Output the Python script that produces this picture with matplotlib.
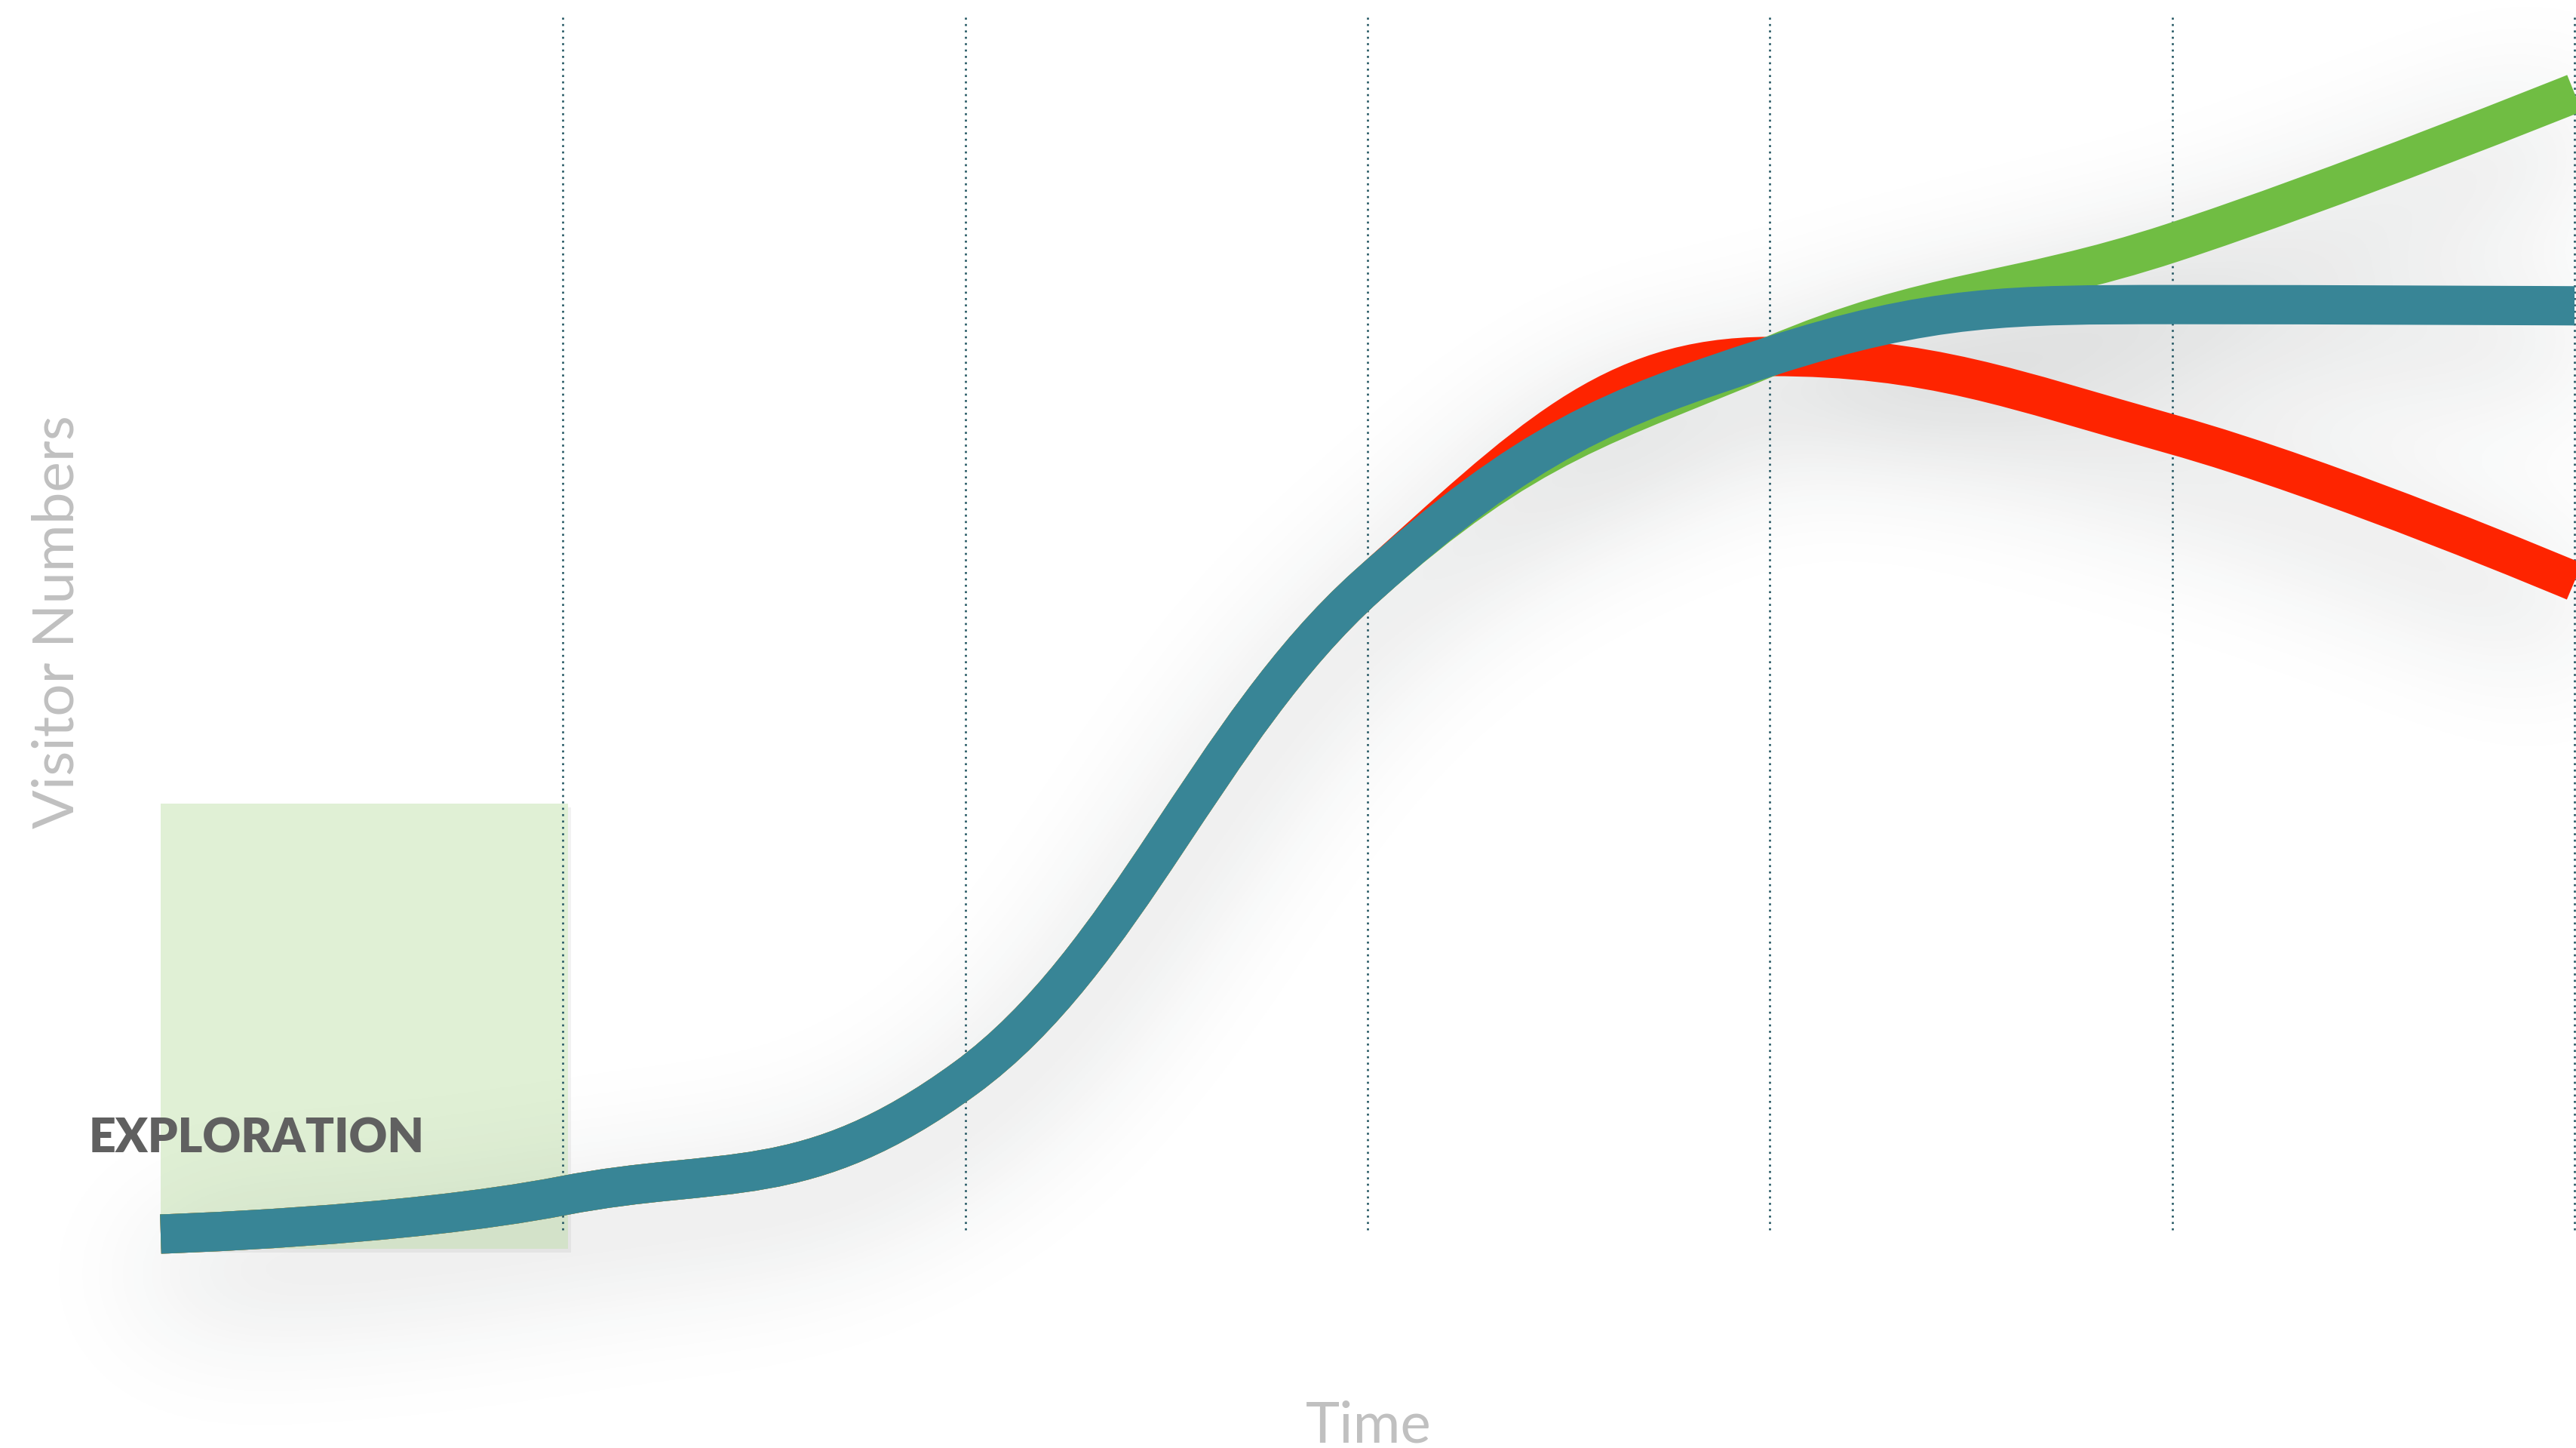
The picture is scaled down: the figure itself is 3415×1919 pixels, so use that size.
import numpy as np
import matplotlib
matplotlib.use("Agg")
import matplotlib.pyplot as plt
from matplotlib.path import Path
from matplotlib.patches import PathPatch, Rectangle
import matplotlib.transforms as mtransforms

# ---------------- data ----------------
time_points = [0, 1, 2, 3, 4, 5, 6]
teal_values = [1.5, 4.6, 14.1, 54.0, 72.5, 76.7, 76.6]
red_values = [1.5, 4.6, 14.1, 54.0, 72.5, 66.2, 54.3]
green_values = [1.5, 4.6, 14.1, 54.0, 72.5, 81.7, 93.8]
grid_positions = [1, 2, 3, 4, 5, 6]
band_x = [0.0, 1.013]
band_y = [0.3, 36.3]
band_label = "EXPLORATION"
x_title = "Time"
y_title = "Visitor Numbers"

# ---------------- style ----------------
W, H, DPI = 3415, 1919, 100
TEAL = "#388596"
GREEN = "#70BD43"
RED = "#FE2400"
GRID = "#245763"
BAND = "#E0F0D5"
LW = 37.5  # points
XLIM = (-213 / 533.33, 6 + 2 / 533.33)
YLIM = (-(H - 1660) / 16.38, 1660 / 16.38)

plt.rcParams["font.family"] = ["Lato", "DejaVu Sans"]


def spline_path(xs, ys):
    """Smooth path through the points (Highcharts-like spline)."""
    n = len(xs)
    left = [None] * n
    right = [None] * n
    s, d = 1.5, 2.5
    for i in range(1, n - 1):
        x, y = xs[i], ys[i]
        lx, ly = xs[i - 1], ys[i - 1]
        nx, ny = xs[i + 1], ys[i + 1]
        lcx, lcy = (s * x + lx) / d, (s * y + ly) / d
        rcx, rcy = (s * x + nx) / d, (s * y + ny) / d
        corr = (rcy - lcy) * (rcx - x) / (rcx - lcx) + y - rcy
        lcy += corr
        rcy += corr
        if lcy > ly and lcy > y:
            lcy = max(ly, y); rcy = 2 * y - lcy
        elif lcy < ly and lcy < y:
            lcy = min(ly, y); rcy = 2 * y - lcy
        if rcy > ny and rcy > y:
            rcy = max(ny, y); lcy = 2 * y - rcy
        elif rcy < ny and rcy < y:
            rcy = min(ny, y); lcy = 2 * y - rcy
        left[i] = (lcx, lcy)
        right[i] = (rcx, rcy)
    verts = [(xs[0], ys[0])]
    codes = [Path.MOVETO]
    for i in range(1, n):
        c1 = right[i - 1] if right[i - 1] is not None else (xs[i - 1], ys[i - 1])
        c2 = left[i] if left[i] is not None else (xs[i], ys[i])
        verts += [c1, c2, (xs[i], ys[i])]
        codes += [Path.CURVE4] * 3
    return Path(verts, codes)


series = [(red_values, RED), (green_values, GREEN), (teal_values, TEAL)]


def setup_axes(fig):
    ax = fig.add_axes([0, 0, 1, 1])
    ax.set_xlim(*XLIM)
    ax.set_ylim(*YLIM)
    ax.axis("off")
    return ax


# ---------------- shadow (blurred copy of the curves) ----------------
def make_shadow(offset_px=55, sigma_px=85, strength=0.28):
    sdpi = 25
    f2 = plt.figure(figsize=(W / DPI, H / DPI), dpi=sdpi)
    a2 = setup_axes(f2)
    tr = mtransforms.offset_copy(a2.transData, fig=f2, x=0, y=-offset_px / DPI, units="inches")
    for vals, _ in series:
        p = PathPatch(spline_path(time_points, vals), fill=False, edgecolor="black",
                      linewidth=LW, transform=tr, capstyle="butt", joinstyle="round")
        a2.add_patch(p)
    f2.canvas.draw()
    buf = np.asarray(f2.canvas.buffer_rgba()).astype(float)
    plt.close(f2)
    mask = 1.0 - buf[..., 0] / 255.0
    sig = sigma_px * sdpi / DPI
    r = int(3 * sig) + 1
    k = np.exp(-0.5 * (np.arange(-r, r + 1) / sig) ** 2)
    k /= k.sum()
    pad = np.pad(mask, r)
    blurred = np.apply_along_axis(lambda m: np.convolve(m, k, mode="same"), 0, pad)
    blurred = np.apply_along_axis(lambda m: np.convolve(m, k, mode="same"), 1, blurred)
    blurred = blurred[r:-r, r:-r]
    img = np.zeros(blurred.shape + (4,))
    img[..., 0] = 0.14
    img[..., 1] = 0.17
    img[..., 2] = 0.17
    img[..., 3] = np.clip(blurred * strength, 0, 1)
    return img


fig = plt.figure(figsize=(W / DPI, H / DPI), dpi=DPI)
ax = setup_axes(fig)

# plot band with its slight shadow
ax.add_patch(Rectangle((band_x[0], band_y[0]), band_x[1] - band_x[0], band_y[1] - band_y[0],
                       transform=mtransforms.offset_copy(ax.transData, fig=fig, x=4 / DPI, y=-5 / DPI, units="inches"),
                       facecolor="black", alpha=0.05, edgecolor="none", zorder=0.9))
ax.add_patch(Rectangle((band_x[0], band_y[0]), band_x[1] - band_x[0], band_y[1] - band_y[0],
                       facecolor=BAND, edgecolor="none", zorder=1))

shadow = make_shadow()
ax.imshow(shadow, extent=(XLIM[0], XLIM[1], YLIM[0], YLIM[1]), origin="upper",
          aspect="auto", interpolation="bilinear", zorder=1.5)

# dotted vertical grid lines
ax.vlines(grid_positions, ymin=1.83, ymax=100.0, colors=GRID, linewidth=1.9,
          linestyles=(0, (1, 2.2)), zorder=2)

# curves
for vals, col in series:
    ax.add_patch(PathPatch(spline_path(time_points, vals), fill=False, edgecolor=col,
                           linewidth=LW, capstyle="butt", joinstyle="round", zorder=3))

ax.set_xlim(*XLIM)
ax.set_ylim(*YLIM)

# texts
ax.text(-0.178, 8.06, band_label, fontsize=45, fontweight="heavy", color="#606060",
        ha="left", va="baseline", zorder=4)
fig.text(1814 / W, 1 - 1911 / H, x_title, fontsize=55, color="#C0C0C0",
         ha="center", va="baseline")
fig.text(98 / W, 1 - 824 / H, y_title, fontsize=55, color="#C0C0C0",
         ha="center", va="baseline", rotation=90, rotation_mode="anchor")

fig.savefig("out.png", dpi=DPI, facecolor="white")
